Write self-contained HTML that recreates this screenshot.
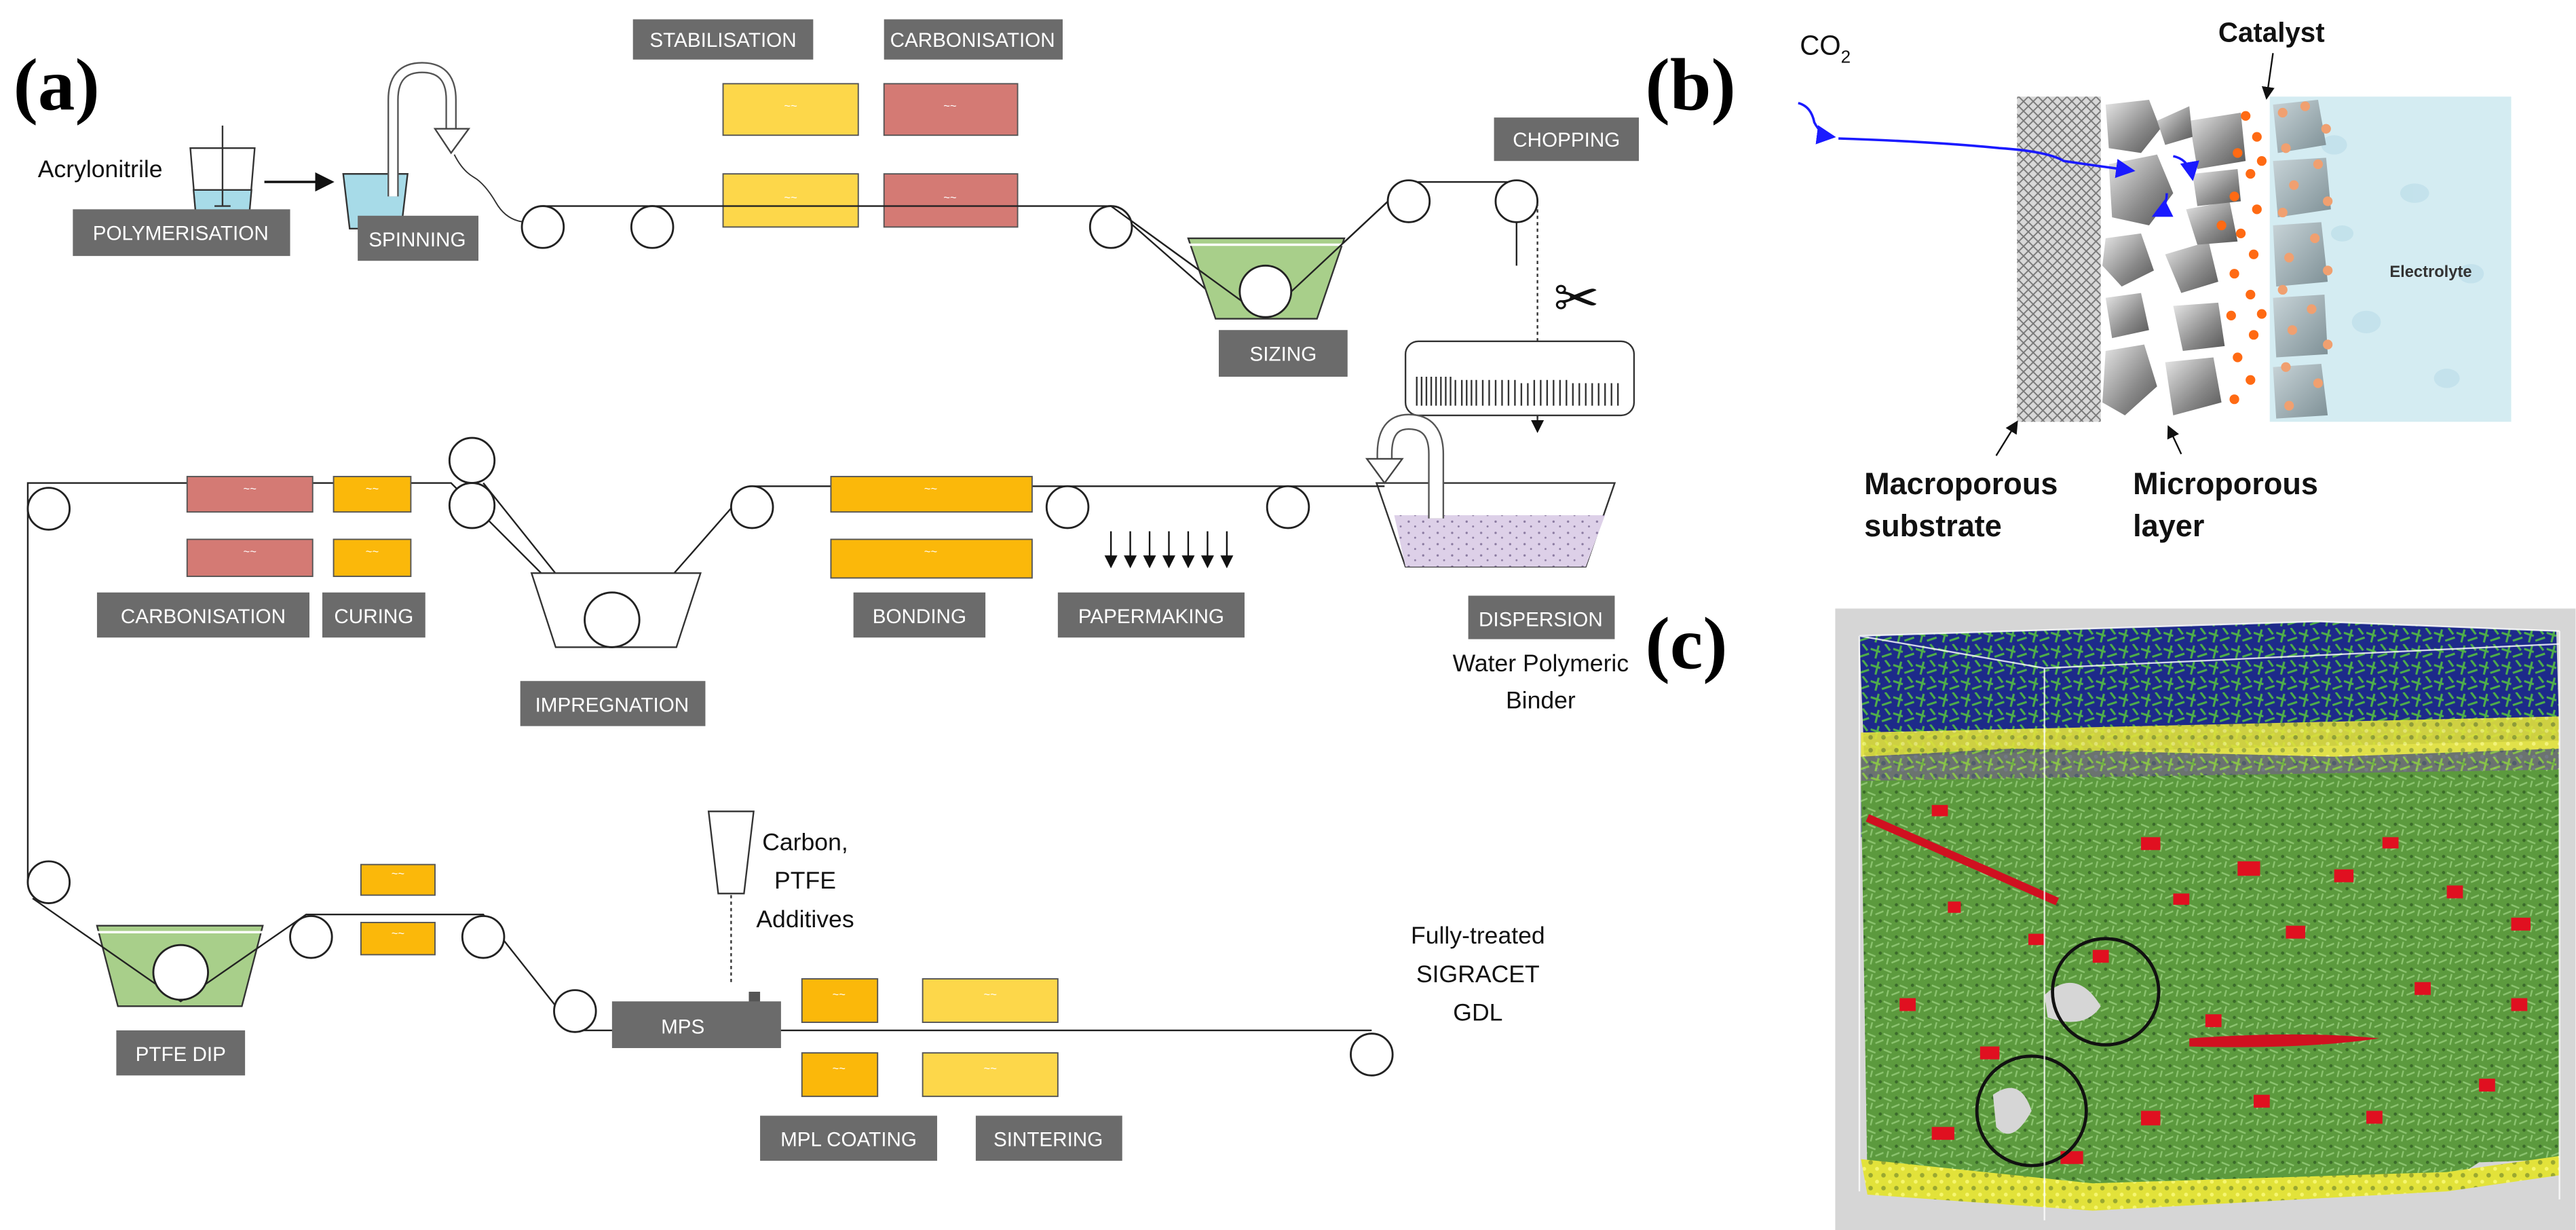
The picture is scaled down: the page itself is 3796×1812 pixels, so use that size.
<!DOCTYPE html>
<html><head><meta charset="utf-8"><style>
html,body{margin:0;padding:0;background:#fff;}
svg{display:block;}
.lb{fill:#6b6b6b;}
.lt{fill:#fff;font-family:"Liberation Sans",sans-serif;font-size:12.5px;text-anchor:middle;}
.tx{fill:#111;font-family:"Liberation Sans",sans-serif;font-size:15px;text-anchor:middle;}
.ln{stroke:#222;stroke-width:1;fill:none;}
.rl{stroke:#222;stroke-width:1.2;fill:#fff;}
.bold{font-family:"Liberation Serif",serif;font-weight:bold;font-size:46px;fill:#000;}
</style></head><body>
<svg width="3796" height="1812" viewBox="0 0 1600 764" xmlns="http://www.w3.org/2000/svg">
<defs>
<pattern id="hatch" width="6" height="6" patternUnits="userSpaceOnUse">
<rect width="6" height="6" fill="#d8d8d8"/><path d="M0 0L6 6M6 0L0 6" stroke="#777" stroke-width="0.8"/></pattern>
<linearGradient id="rock" x1="0" y1="0" x2="1" y2="1"><stop offset="0" stop-color="#e8e8e8"/><stop offset="0.6" stop-color="#8a8a8a"/><stop offset="1" stop-color="#555"/></linearGradient>
<linearGradient id="rock2" x1="0" y1="0" x2="1" y2="1"><stop offset="0" stop-color="#c8d4d8"/><stop offset="1" stop-color="#7e9096"/></linearGradient>
<pattern id="noiseB" width="14" height="10" patternUnits="userSpaceOnUse">
<rect width="14" height="10" fill="#1d2a8a"/><path d="M0 3L6 5M7 8L13 6M3 9L5 1M9 0L12 4" stroke="#4fae4a" stroke-width="1.3"/></pattern>
<pattern id="noiseG" width="10" height="10" patternUnits="userSpaceOnUse">
<rect width="10" height="10" fill="#5c9a3e"/><path d="M0 2L5 4M5 8L10 6M2 9L3 5" stroke="#8cc470" stroke-width="1"/><circle cx="8" cy="2" r="1" fill="#3a6a2a"/></pattern>
<pattern id="noiseY" width="8" height="8" patternUnits="userSpaceOnUse">
<rect width="8" height="8" fill="#e2e23a"/><circle cx="2" cy="2" r="1.4" fill="#9aa830"/><circle cx="6" cy="6" r="1.2" fill="#f6f670"/></pattern>
<pattern id="dots" width="9" height="7" patternUnits="userSpaceOnUse"><rect width="9" height="7" fill="#ddd0e8"/><circle cx="2" cy="2" r="0.7" fill="#8a7aa0"/><circle cx="6" cy="5" r="0.6" fill="#8a7aa0"/></pattern>
<marker id="ah" markerWidth="8" markerHeight="8" refX="7" refY="4" orient="auto"><path d="M0 0L8 4L0 8z" fill="#111"/></marker>
<marker id="ahb" markerWidth="8" markerHeight="8" refX="7" refY="4" orient="auto"><path d="M0 0L8 4L0 8z" fill="#1a1aff"/></marker>
</defs>
<rect width="1600" height="764" fill="#fff"/>

<text class="bold" x="8" y="68">(a)</text>

<rect class="lb" x="393" y="12" width="112" height="25"/><text class="lt" x="449" y="29">STABILISATION</text>
<rect class="lb" x="549" y="12" width="111" height="25"/><text class="lt" x="604" y="29">CARBONISATION</text>
<rect x="449" y="52" width="84" height="32" fill="#fdd74a" stroke="#555" stroke-width="0.8"/>
<rect x="449" y="108" width="84" height="33" fill="#fdd74a" stroke="#555" stroke-width="0.8"/>
<rect x="549" y="52" width="83" height="32" fill="#d47a74" stroke="#555" stroke-width="0.8"/>
<rect x="549" y="108" width="83" height="33" fill="#d47a74" stroke="#555" stroke-width="0.8"/>

<text class="tx" x="62" y="110">Acrylonitrile</text>
<path d="M118 92 L158 92 L154 140 L122 140Z" fill="#fff" stroke="#333"/>
<path d="M120 118 L156 118 L154 140 L122 140Z" fill="#a7dbe8" stroke="#333"/>
<path d="M138 78 V128 M133 128 H143" stroke="#333"/>
<line x1="164" y1="113" x2="206" y2="113" stroke="#111" stroke-width="1.5" marker-end="url(#ah)"/>
<rect class="lb" x="45" y="130" width="135" height="29"/><text class="lt" x="112" y="149">POLYMERISATION</text>
<path d="M213 108 L253 108 L249 142 L217 142Z" fill="#a7dbe8" stroke="#333"/>
<path d="M244 122 V62 Q244 42 262 42 Q280 42 280 62 V80" fill="none" stroke="#555" stroke-width="7"/>
<path d="M244 122 V62 Q244 42 262 42 Q280 42 280 62 V80" fill="none" stroke="#fff" stroke-width="5"/>
<path d="M270 80 L291 80 L280 95Z" fill="#fff" stroke="#444"/>
<path d="M282 96 q5 10 12 14 t14 16 t20 12" fill="none" stroke="#333" stroke-width="0.8"/>
<rect class="lb" x="222" y="134" width="75" height="28"/><text class="lt" x="259" y="153">SPINNING</text>

<path class="ln" d="M337 128 H690 L785 197 L875 113 H942 V165"/>
<path class="ln" d="M690 128 L755 185"/>
<circle class="rl" cx="337" cy="141" r="13"/>
<circle class="rl" cx="405" cy="141" r="13"/>
<circle class="rl" cx="690" cy="141" r="13"/>
<path d="M738 148 L835 148 L818 198 L755 198Z" fill="#a8cf8a" stroke="#333"/>
<line x1="738" y1="152" x2="835" y2="152" stroke="#fff" stroke-width="1.5"/>
<path class="ln" d="M690 128 L785 197"/>
<path class="ln" d="M785 197 L875 113"/>
<circle class="rl" cx="786" cy="181" r="16"/>
<rect class="lb" x="757" y="205" width="80" height="29"/><text class="lt" x="797" y="224">SIZING</text>
<circle class="rl" cx="875" cy="125" r="13"/>
<circle class="rl" cx="942" cy="125" r="13"/>
<rect class="lb" x="928" y="73" width="90" height="27"/><text class="lt" x="973" y="91">CHOPPING</text>
<line x1="955" y1="126" x2="955" y2="260" stroke="#333" stroke-dasharray="2,2"/>
<line x1="955" y1="258" x2="955" y2="268" stroke="#333" marker-end="url(#ah)"/>
<text x="965" y="197" font-size="34" font-family="DejaVu Sans,sans-serif" fill="#111">✂</text>
<rect x="873" y="212" width="142" height="46" rx="8" fill="#fff" stroke="#333"/>
<path d="M880 234 V252 M883 234 V252 M886 234 V252 M889 234 V252 M892 234 V252 M895 234 V252 M898 234 V252 M901 234 V252 M904 236 V252 M908 236 V252 M911 236 V252 M914 236 V252 M917 236 V252 M921 236 V252 M925 236 V252 M929 236 V252 M933 236 V252 M937 236 V252 M941 236 V252 M945 238 V252 M949 238 V252 M953 236 V252 M957 236 V252 M961 236 V252 M965 236 V252 M969 236 V252 M973 236 V252 M977 238 V252 M981 238 V252 M985 238 V252 M989 238 V252 M993 238 V252 M997 238 V252 M1001 238 V252 M1005 238 V252" stroke="#333" stroke-width="1"/>

<path d="M855 300 L1003 300 L985 352 L873 352Z" fill="#fff" stroke="#333"/>
<path d="M866 320 L997 320 L985 352 L873 352Z" fill="url(#dots)" stroke="none"/>
<path d="M892 322 V282 Q892 262 875 262 Q860 262 860 282 V288" fill="none" stroke="#555" stroke-width="10"/>
<path d="M892 322 V282 Q892 262 875 262 Q860 262 860 282 V288" fill="none" stroke="#fff" stroke-width="8"/>
<path d="M849 285 L871 285 L860 300Z" fill="#fff" stroke="#444"/>
<rect class="lb" x="912" y="370" width="91" height="27"/><text class="lt" x="957" y="389">DISPERSION</text>
<text class="tx" x="957" y="417">Water Polymeric</text>
<text class="tx" x="957" y="440">Binder</text>

<path class="ln" d="M17 316 V300 H280 L380 400 L466 302 H860"/>
<path class="ln" d="M300 300 L380 400"/>
<path class="ln" d="M17 316 V548"/>
<circle class="rl" cx="30" cy="316" r="13"/>
<circle class="rl" cx="293" cy="286" r="14"/>
<circle class="rl" cx="293" cy="314" r="14"/>
<circle class="rl" cx="467" cy="315" r="13"/>
<circle class="rl" cx="663" cy="315" r="13"/>
<circle class="rl" cx="800" cy="315" r="13"/>
<rect x="116" y="296" width="78" height="22" fill="#d47a74" stroke="#555" stroke-width="0.8"/>
<rect x="116" y="335" width="78" height="23" fill="#d47a74" stroke="#555" stroke-width="0.8"/>
<rect x="207" y="296" width="48" height="22" fill="#fbb80a" stroke="#555" stroke-width="0.8"/>
<rect x="207" y="335" width="48" height="23" fill="#fbb80a" stroke="#555" stroke-width="0.8"/>
<rect class="lb" x="60" y="368" width="132" height="28"/><text class="lt" x="126" y="387">CARBONISATION</text>
<rect class="lb" x="200" y="368" width="64" height="28"/><text class="lt" x="232" y="387">CURING</text>
<path d="M330 356 L435 356 L420 402 L345 402Z" fill="#fff" stroke="#333"/>
<circle class="rl" cx="380" cy="385" r="17"/>
<rect class="lb" x="323" y="423" width="115" height="28"/><text class="lt" x="380" y="442">IMPREGNATION</text>
<rect x="516" y="296" width="125" height="22" fill="#fbb80a" stroke="#555" stroke-width="0.8"/>
<rect x="516" y="335" width="125" height="24" fill="#fbb80a" stroke="#555" stroke-width="0.8"/>
<rect class="lb" x="530" y="368" width="82" height="28"/><text class="lt" x="571" y="387">BONDING</text>
<rect class="lb" x="657" y="368" width="116" height="28"/><text class="lt" x="715" y="387">PAPERMAKING</text>
<g stroke="#111" stroke-width="1">
<line x1="690" y1="330" x2="690" y2="352" marker-end="url(#ah)"/><line x1="702" y1="330" x2="702" y2="352" marker-end="url(#ah)"/><line x1="714" y1="330" x2="714" y2="352" marker-end="url(#ah)"/><line x1="726" y1="330" x2="726" y2="352" marker-end="url(#ah)"/><line x1="738" y1="330" x2="738" y2="352" marker-end="url(#ah)"/><line x1="750" y1="330" x2="750" y2="352" marker-end="url(#ah)"/><line x1="762" y1="330" x2="762" y2="352" marker-end="url(#ah)"/></g>

<circle class="rl" cx="30" cy="548" r="13"/>
<path d="M60 575 L163 575 L150 625 L73 625Z" fill="#a8cf8a" stroke="#333"/>
<line x1="60" y1="579" x2="163" y2="579" stroke="#fff" stroke-width="1.5"/>
<path class="ln" d="M20 558 L112 622 L190 568 H300 L357 640 H852"/>
<circle class="rl" cx="112" cy="604" r="17"/>
<rect class="lb" x="72" y="640" width="80" height="28"/><text class="lt" x="112" y="659">PTFE DIP</text>
<circle class="rl" cx="193" cy="582" r="13"/>
<circle class="rl" cx="300" cy="582" r="13"/>
<rect x="224" y="537" width="46" height="19" fill="#fbb80a" stroke="#555" stroke-width="0.8"/>
<rect x="224" y="573" width="46" height="20" fill="#fbb80a" stroke="#555" stroke-width="0.8"/>
<circle class="rl" cx="357" cy="628" r="13"/>
<circle class="rl" cx="852" cy="655" r="13"/>
<path d="M440 504 L468 504 L462 555 L446 555Z" fill="#fff" stroke="#333"/>
<line x1="454" y1="556" x2="454" y2="610" stroke="#333" stroke-dasharray="2,2"/>
<rect x="465" y="616" width="7" height="20" fill="#555"/>
<path d="M440 640 L466 630 L466 640Z" fill="#222"/>
<text class="tx" x="500" y="528">Carbon,</text>
<text class="tx" x="500" y="552">PTFE</text>
<text class="tx" x="500" y="576">Additives</text>
<rect class="lb" x="380" y="622" width="105" height="29"/><text class="lt" x="424" y="642">MPS</text>
<rect x="498" y="608" width="47" height="27" fill="#fbb80a" stroke="#555" stroke-width="0.8"/>
<rect x="498" y="654" width="47" height="27" fill="#fbb80a" stroke="#555" stroke-width="0.8"/>
<rect x="573" y="608" width="84" height="27" fill="#fdd74a" stroke="#555" stroke-width="0.8"/>
<rect x="573" y="654" width="84" height="27" fill="#fdd74a" stroke="#555" stroke-width="0.8"/>
<rect class="lb" x="472" y="693" width="110" height="28"/><text class="lt" x="527" y="712">MPL COATING</text>
<rect class="lb" x="606" y="693" width="91" height="28"/><text class="lt" x="651" y="712">SINTERING</text>
<text class="tx" x="918" y="586">Fully-treated</text>
<text class="tx" x="918" y="610">SIGRACET</text>
<text class="tx" x="918" y="634">GDL</text>

<g fill="#fff" font-size="7" font-family="Liberation Sans,sans-serif" text-anchor="middle">
<text x="491" y="68">~~</text><text x="491" y="125">~~</text><text x="590" y="68">~~</text><text x="590" y="125">~~</text>
<text x="155" y="306">~~</text><text x="155" y="345">~~</text><text x="231" y="306">~~</text><text x="231" y="345">~~</text>
<text x="578" y="306">~~</text><text x="578" y="345">~~</text><text x="247" y="545">~~</text><text x="247" y="582">~~</text>
<text x="521" y="620">~~</text><text x="521" y="666">~~</text><text x="615" y="620">~~</text><text x="615" y="666">~~</text></g>

<text class="bold" x="1022" y="68">(b)</text>
<text x="1118" y="34" font-family="Liberation Sans,sans-serif" font-size="17" fill="#111">CO<tspan font-size="11" dy="5">2</tspan></text>
<text x="1378" y="26" font-family="Liberation Sans,sans-serif" font-weight="bold" font-size="17" fill="#111">Catalyst</text>
<line x1="1412" y1="33" x2="1408" y2="61" stroke="#111" marker-end="url(#ah)"/>
<rect x="1410" y="60" width="150" height="202" fill="#d4ecf2"/>
<g fill="#bfe0ea" opacity="0.8"><ellipse cx="1450" cy="90" rx="8" ry="6"/><ellipse cx="1500" cy="120" rx="9" ry="6"/><ellipse cx="1535" cy="170" rx="8" ry="6"/><ellipse cx="1470" cy="200" rx="9" ry="7"/><ellipse cx="1520" cy="235" rx="8" ry="6"/><ellipse cx="1455" cy="145" rx="7" ry="5"/></g>
<text x="1510" y="172" font-family="Liberation Sans,sans-serif" font-weight="bold" font-size="10" fill="#333" text-anchor="middle">Electrolyte</text>
<rect x="1253" y="60" width="52" height="202" fill="url(#hatch)"/>
<g fill="url(#rock)">
<path d="M1308 65 L1335 62 L1342 80 L1330 95 L1310 92Z"/>
<path d="M1310 102 L1340 96 L1350 120 L1335 140 L1312 135Z"/>
<path d="M1308 148 L1330 145 L1338 168 L1318 178 L1306 165Z"/>
<path d="M1308 185 L1330 182 L1335 205 L1312 210Z"/>
<path d="M1308 218 L1332 214 L1340 240 L1320 258 L1306 250Z"/>
<path d="M1345 158 L1372 150 L1378 175 L1355 182Z"/>
<path d="M1350 190 L1378 188 L1382 215 L1356 218Z"/>
<path d="M1345 225 L1375 222 L1380 250 L1350 258Z"/>
<path d="M1358 130 L1385 125 L1390 150 L1365 152Z"/>
<path d="M1360 75 L1392 70 L1395 100 L1365 105Z"/>
<path d="M1362 108 L1390 105 L1392 125 L1365 128Z"/>
<path d="M1340 75 L1360 66 L1362 85 L1345 90Z"/>
</g>
<g fill="url(#rock2)">
<path d="M1412 65 L1440 62 L1445 90 L1415 95Z"/><path d="M1412 100 L1445 98 L1448 130 L1415 135Z"/>
<path d="M1412 140 L1442 138 L1446 175 L1414 178Z"/><path d="M1412 185 L1444 183 L1446 220 L1414 222Z"/>
<path d="M1412 228 L1442 226 L1446 258 L1414 260Z"/></g>
<g fill="#ff6a13">
<circle cx="1395" cy="72" r="3"/><circle cx="1402" cy="85" r="3"/><circle cx="1390" cy="95" r="3"/><circle cx="1398" cy="108" r="3"/><circle cx="1388" cy="122" r="3"/><circle cx="1402" cy="130" r="3"/><circle cx="1392" cy="145" r="3"/><circle cx="1400" cy="158" r="3"/><circle cx="1388" cy="170" r="3"/><circle cx="1398" cy="183" r="3"/><circle cx="1386" cy="196" r="3"/><circle cx="1400" cy="208" r="3"/><circle cx="1390" cy="222" r="3"/><circle cx="1398" cy="236" r="3"/><circle cx="1388" cy="248" r="3"/><circle cx="1405" cy="100" r="3"/><circle cx="1405" cy="195" r="3"/><circle cx="1380" cy="140" r="3"/></g>
<g fill="#f0a070">
<circle cx="1418" cy="70" r="3"/><circle cx="1432" cy="66" r="3"/><circle cx="1445" cy="80" r="3"/><circle cx="1420" cy="92" r="3"/><circle cx="1440" cy="102" r="3"/><circle cx="1425" cy="115" r="3"/><circle cx="1446" cy="125" r="3"/><circle cx="1418" cy="132" r="3"/><circle cx="1438" cy="148" r="3"/><circle cx="1422" cy="160" r="3"/><circle cx="1446" cy="168" r="3"/><circle cx="1418" cy="180" r="3"/><circle cx="1436" cy="192" r="3"/><circle cx="1424" cy="205" r="3"/><circle cx="1446" cy="214" r="3"/><circle cx="1420" cy="228" r="3"/><circle cx="1440" cy="238" r="3"/><circle cx="1422" cy="252" r="3"/></g>
<path d="M1117 64 q8 2 10 12 q4 8 12 9" fill="none" stroke="#1a1aff" stroke-width="1.5" marker-end="url(#ahb)"/>
<path d="M1142 86 q60 2 100 6 q30 2 40 8 q20 3 43 6" fill="none" stroke="#1a1aff" stroke-width="1.5" marker-end="url(#ahb)"/>
<path d="M1350 97 q10 2 12 14" fill="none" stroke="#1a1aff" stroke-width="1.5" marker-end="url(#ahb)"/>
<path d="M1346 120 q0 10 -8 14" fill="none" stroke="#1a1aff" stroke-width="1.5" marker-end="url(#ahb)"/>
<line x1="1240" y1="283" x2="1253" y2="262" stroke="#111" marker-end="url(#ah)"/>
<line x1="1355" y1="282" x2="1347" y2="265" stroke="#111" marker-end="url(#ah)"/>
<g font-family="Liberation Sans,sans-serif" font-weight="bold" font-size="19" fill="#111">
<text x="1158" y="307">Macroporous</text><text x="1158" y="333">substrate</text>
<text x="1325" y="307">Microporous</text><text x="1325" y="333">layer</text></g>

<text class="bold" x="1022" y="415">(c)</text>
<rect x="1140" y="378" width="460" height="386" fill="#d6d6d6"/>
<path d="M1155 395 L1440 386 L1588 392 L1590 460 L1158 470Z" fill="url(#noiseB)"/>
<path d="M1156 455 L1590 445 L1590 480 L1156 490Z" fill="url(#noiseY)" opacity="0.9"/>
<path d="M1156 470 L1250 465 L1450 470 L1590 465 L1590 520 L1156 520Z" fill="url(#noiseB)" opacity="0.6"/>
<path d="M1156 485 L1590 478 L1590 720 L1540 722 L1520 735 L1300 750 L1160 735Z" fill="url(#noiseG)"/>
<path d="M1156 720 L1300 735 L1520 728 L1590 718 L1590 730 L1520 740 L1300 752 L1160 742Z" fill="url(#noiseY)"/>
<path d="M1160 508 L1278 560" stroke="#d01020" stroke-width="5"/>
<path d="M1360 645 Q1430 640 1478 645 Q1430 652 1360 650Z" fill="#d01020"/>
<g fill="#e01020">
<rect x="1200" y="500" width="10" height="7"/><rect x="1330" y="520" width="12" height="8"/><rect x="1390" y="535" width="14" height="9"/><rect x="1450" y="540" width="12" height="8"/><rect x="1520" y="550" width="10" height="8"/><rect x="1560" y="570" width="12" height="8"/><rect x="1300" y="590" width="10" height="8"/><rect x="1420" y="575" width="12" height="8"/><rect x="1500" y="610" width="10" height="8"/><rect x="1560" y="620" width="10" height="8"/><rect x="1180" y="620" width="10" height="8"/><rect x="1230" y="650" width="12" height="8"/><rect x="1330" y="690" width="12" height="9"/><rect x="1400" y="680" width="10" height="8"/><rect x="1470" y="690" width="10" height="8"/><rect x="1540" y="670" width="10" height="8"/><rect x="1200" y="700" width="14" height="8"/><rect x="1260" y="580" width="10" height="7"/><rect x="1350" y="555" width="10" height="7"/><rect x="1210" y="560" width="8" height="7"/><rect x="1480" y="520" width="10" height="7"/><rect x="1280" y="715" width="14" height="8"/><rect x="1370" y="630" width="10" height="8"/></g>
<path d="M1270 618 Q1290 600 1305 625 Q1295 640 1272 632Z" fill="#d6d6d6"/>
<path d="M1238 680 Q1255 668 1262 690 Q1250 712 1240 700Z" fill="#d6d6d6"/>
<circle cx="1308" cy="616" r="33" fill="none" stroke="#111" stroke-width="2"/>
<circle cx="1262" cy="690" r="34" fill="none" stroke="#111" stroke-width="2"/>
<path d="M1155 395 L1440 386 L1590 392 M1155 395 L1270 415 L1590 400 M1270 415 V758 M1590 392 V745 M1155 395 V740" fill="none" stroke="#fff" stroke-width="1" opacity="0.8"/>
</svg>
</body></html>
